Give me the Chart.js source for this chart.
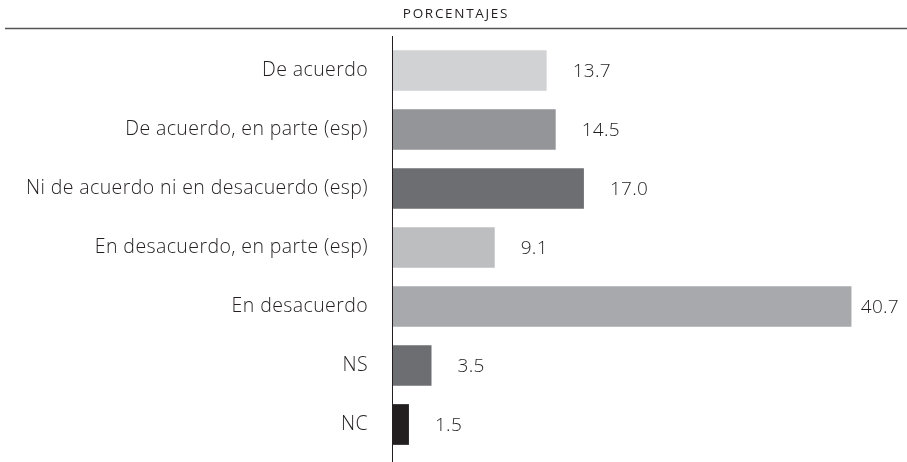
<!DOCTYPE html>
<html>
<head>
<meta charset="utf-8">
<script src="https://cdn.jsdelivr.net/npm/chart.js@4.4.0/dist/chart.umd.min.js"></script>
<style>
  html, body { margin: 0; padding: 0; background: #fff; }
  #wrap { width: 907px; height: 462px; }
</style>
</head>
<body>
<div id="wrap"><canvas id="chart" width="907" height="462"></canvas></div>
<script>
const categories = [
  "De acuerdo",
  "De acuerdo, en parte (esp)",
  "Ni de acuerdo ni en desacuerdo (esp)",
  "En desacuerdo, en parte (esp)",
  "En desacuerdo",
  "NS",
  "NC"
];
const values = [13.7, 14.5, 17.0, 9.1, 40.7, 3.5, 1.5];
const barColors = ["#d1d2d4", "#939598", "#6d6e71", "#bcbec0", "#a7a9ac", "#6d6e71", "#231f20"];
const unitTitle = "PORCENTAJES";

const FONT = "'Open Sans', sans-serif";

// header line, title, long axis line and value labels
const decorations = {
  id: "decorations",
  beforeDraw(chart) {
    // slightly wider text, like the original typeface
    if (chart.ctx.letterSpacing !== undefined) chart.ctx.letterSpacing = "0.4px";
  },
  afterDraw(chart) {
    const ctx = chart.ctx;
    const x = chart.scales.x;
    ctx.save();
    ctx.fillStyle = "#231f20";
    ctx.font = "400 13.5px " + FONT;
    ctx.textAlign = "center";
    ctx.textBaseline = "middle";
    if (ctx.letterSpacing !== undefined) ctx.letterSpacing = "1.7px";
    ctx.fillText(unitTitle, 456, 14);
    if (ctx.letterSpacing !== undefined) ctx.letterSpacing = "0.3px";

    ctx.strokeStyle = "#555";
    ctx.lineWidth = 1.3;
    ctx.beginPath();
    ctx.moveTo(5, 28.5);
    ctx.lineTo(907, 28.5);
    ctx.stroke();

    const x0 = Math.round(x.getPixelForValue(0)) + 0.5;
    ctx.strokeStyle = "#231f20";
    ctx.lineWidth = 1;
    ctx.beginPath();
    ctx.moveTo(x0, 36);
    ctx.lineTo(x0, 462);
    ctx.stroke();

    ctx.font = "300 19px " + FONT;
    ctx.textAlign = "left";
    const meta = chart.getDatasetMeta(0);
    meta.data.forEach((bar, i) => {
      const txt = values[i].toFixed(1);
      const w = ctx.measureText(txt).width;
      const tx = Math.min(bar.x + 26, chart.width - w - 8);
      ctx.fillText(txt, tx, bar.y + 1);
    });
    ctx.restore();
  }
};

new Chart(document.getElementById("chart"), {
  type: "bar",
  data: {
    labels: categories,
    datasets: [{
      data: values,
      backgroundColor: barColors,
      borderWidth: 0,
      barPercentage: 0.69,
      categoryPercentage: 1
    }]
  },
  options: {
    indexAxis: "y",
    responsive: false,
    animation: false,
    layout: { padding: { top: 41, bottom: 8, left: 0, right: 7 } },
    plugins: {
      legend: { display: false },
      tooltip: { enabled: false }
    },
    scales: {
      x: {
        min: 0,
        max: 45,
        display: false
      },
      y: {
        grid: { display: false },
        border: { display: false },
        afterFit(scale) {
          scale.width = 392;
          scale.paddingTop = 0;
          scale.paddingBottom = 0;
        },
        ticks: {
          color: "#231f20",
          padding: 16,
          font: { family: FONT, size: 19.5, weight: "300" }
        }
      }
    }
  },
  plugins: [decorations]
});
</script>
</body>
</html>
